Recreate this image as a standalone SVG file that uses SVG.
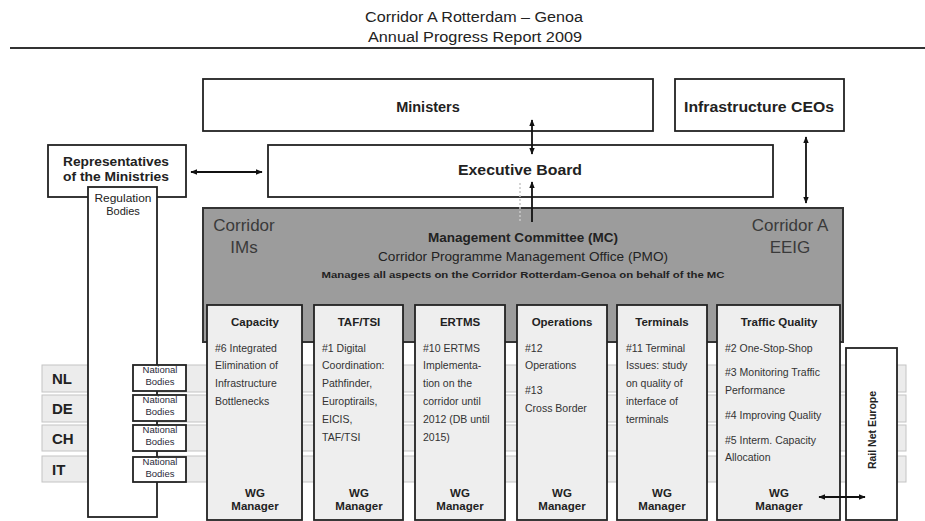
<svg xmlns="http://www.w3.org/2000/svg" width="925" height="521" viewBox="0 0 925 521">
<style>
text{font-family:"Liberation Sans",Arial,sans-serif;fill:#222}
.box{fill:#fff;stroke:#222;stroke-width:1.8}
.wg{fill:#eeeeee;stroke:#222;stroke-width:1.8}
.row{fill:#ececec;stroke:#c4c4c4;stroke-width:1}
.h{font-weight:bold;text-anchor:middle}
.c{text-anchor:middle}
.wh{font-weight:bold;font-size:11.5px;text-anchor:middle}
.b{font-size:10.5px;fill:#333}
.nb{font-size:9.5px;text-anchor:middle;fill:#2a2a3a}
.cty{font-weight:bold;font-size:15px}
.big{font-size:17px;fill:#3a3a3a;text-anchor:middle}
.conn{stroke:#111;stroke-width:1.8;fill:none}
</style>
<defs>
<marker id="ah" viewBox="0 0 10 10" refX="9" refY="5" markerWidth="7" markerHeight="7" markerUnits="userSpaceOnUse" orient="auto-start-reverse"><path d="M0,1 L10,5 L0,9 z" fill="#111"/></marker>
</defs>
<rect width="925" height="521" fill="#fff"/>
<g id="header">
<text x="474" y="22" class="c" font-size="14" fill="#333" textLength="218" lengthAdjust="spacingAndGlyphs">Corridor A Rotterdam – Genoa</text>
<text x="475" y="42" class="c" font-size="14" fill="#333" textLength="214" lengthAdjust="spacingAndGlyphs">Annual Progress Report 2009</text>
<line x1="10" y1="48" x2="925" y2="48" stroke="#333" stroke-width="2.2"/>
</g>
<g id="rows">
<rect class="row" x="42" y="365" width="864" height="27"/>
<rect class="row" x="42" y="395" width="864" height="27"/>
<rect class="row" x="42" y="425" width="864" height="26"/>
<rect class="row" x="42" y="456" width="864" height="26"/>
<line x1="88" y1="365" x2="88" y2="482" stroke="#c4c4c4"/>
<text x="52" y="384" class="cty">NL</text>
<text x="52" y="414" class="cty">DE</text>
<text x="52" y="444" class="cty">CH</text>
<text x="52" y="475" class="cty">IT</text>
</g>
<g id="ministers">
<rect class="box" x="203" y="79" width="450" height="52"/>
<text x="428" y="112" class="h" font-size="14.5">Ministers</text>
</g>
<g id="ceos">
<rect class="box" x="675" y="79" width="169" height="52"/>
<text x="759" y="112" class="h" font-size="14.5" textLength="150" lengthAdjust="spacingAndGlyphs">Infrastructure CEOs</text>
</g>
<g id="executive-board">
<rect class="box" x="268" y="145" width="505" height="52"/>
<text x="520" y="175" class="h" font-size="15" textLength="124" lengthAdjust="spacingAndGlyphs">Executive Board</text>
</g>
<g id="representatives">
<rect class="box" x="48" y="145" width="138" height="52"/>
<text x="116" y="166" class="h" font-size="12.5" textLength="106" lengthAdjust="spacingAndGlyphs">Representatives</text>
<text x="116" y="181" class="h" font-size="12.5" textLength="106" lengthAdjust="spacingAndGlyphs">of the Ministries</text>
</g>
<g id="regulation-bodies">
<rect class="box" x="88" y="187" width="69" height="330"/>
<text x="123" y="202" class="c" font-size="11" fill="#4a3050" textLength="57" lengthAdjust="spacingAndGlyphs">Regulation</text>
<text x="123" y="215" class="c" font-size="11" fill="#4a3050">Bodies</text>
</g>
<g id="management-committee">
<rect x="203" y="208" width="640" height="134" fill="#9c9c9c" stroke="#333" stroke-width="2"/>
<text x="244" y="231" class="big">Corridor</text>
<text x="244" y="253" class="big">IMs</text>
<text x="790" y="231" class="big">Corridor A</text>
<text x="790" y="253" class="big">EEIG</text>
<text x="523" y="242" class="h" font-size="12" textLength="190" lengthAdjust="spacingAndGlyphs">Management Committee (MC)</text>
<text x="523" y="261" class="c" font-size="13" fill="#333" textLength="290" lengthAdjust="spacingAndGlyphs">Corridor Programme Management Office (PMO)</text>
<text x="523" y="278" class="h" font-size="9.5" textLength="403" lengthAdjust="spacingAndGlyphs">Manages all aspects on the Corridor Rotterdam-Genoa on behalf of the MC</text>
</g>
<g id="national-bodies">
<rect class="box" x="133" y="365" width="53" height="26"/>
<text x="160" y="373" class="nb">National</text><text x="160" y="385" class="nb">Bodies</text>
<rect class="box" x="133" y="395" width="53" height="26"/>
<text x="160" y="403" class="nb">National</text><text x="160" y="415" class="nb">Bodies</text>
<rect class="box" x="133" y="425" width="53" height="26"/>
<text x="160" y="433" class="nb">National</text><text x="160" y="445" class="nb">Bodies</text>
<rect class="box" x="133" y="457" width="53" height="25"/>
<text x="160" y="465" class="nb">National</text><text x="160" y="477" class="nb">Bodies</text>
</g>
<g id="wg-capacity">
<rect class="wg" x="207" y="305" width="95" height="215"/>
<text x="255" y="326" class="wh">Capacity</text>
<text x="215" y="352" class="b">#6 Integrated</text>
<text x="215" y="369" class="b">Elimination of</text>
<text x="215" y="387" class="b">Infrastructure</text>
<text x="215" y="405" class="b">Bottlenecks</text>
<text x="255" y="497" class="wh">WG</text>
<text x="255" y="510" class="wh">Manager</text>
</g>
<g id="wg-taftsi">
<rect class="wg" x="314" y="305" width="89" height="215"/>
<text x="359" y="326" class="wh">TAF/TSI</text>
<text x="322" y="352" class="b">#1 Digital</text>
<text x="322" y="369" class="b">Coordination:</text>
<text x="322" y="387" class="b">Pathfinder,</text>
<text x="322" y="405" class="b">Europtirails,</text>
<text x="322" y="423" class="b">EICIS,</text>
<text x="322" y="441" class="b">TAF/TSI</text>
<text x="359" y="497" class="wh">WG</text>
<text x="359" y="510" class="wh">Manager</text>
</g>
<g id="wg-ertms">
<rect class="wg" x="415" y="305" width="90" height="215"/>
<text x="460" y="326" class="wh">ERTMS</text>
<text x="423" y="352" class="b">#10 ERTMS</text>
<text x="423" y="369" class="b">Implementa-</text>
<text x="423" y="387" class="b">tion on the</text>
<text x="423" y="405" class="b">corridor until</text>
<text x="423" y="423" class="b">2012 (DB until</text>
<text x="423" y="441" class="b">2015)</text>
<text x="460" y="497" class="wh">WG</text>
<text x="460" y="510" class="wh">Manager</text>
</g>
<g id="wg-operations">
<rect class="wg" x="517" y="305" width="90" height="215"/>
<text x="562" y="326" class="wh">Operations</text>
<text x="525" y="352" class="b">#12</text>
<text x="525" y="369" class="b">Operations</text>
<text x="525" y="394" class="b">#13</text>
<text x="525" y="412" class="b">Cross Border</text>
<text x="562" y="497" class="wh">WG</text>
<text x="562" y="510" class="wh">Manager</text>
</g>
<g id="wg-terminals">
<rect class="wg" x="617" y="305" width="90" height="215"/>
<text x="662" y="326" class="wh">Terminals</text>
<text x="626" y="352" class="b">#11 Terminal</text>
<text x="626" y="369" class="b">Issues: study</text>
<text x="626" y="387" class="b">on quality of</text>
<text x="626" y="405" class="b">interface of</text>
<text x="626" y="423" class="b">terminals</text>
<text x="662" y="497" class="wh">WG</text>
<text x="662" y="510" class="wh">Manager</text>
</g>
<g id="wg-traffic-quality">
<rect class="wg" x="717" y="305" width="123" height="215"/>
<text x="779" y="326" class="wh">Traffic Quality</text>
<text x="725" y="352" class="b">#2 One-Stop-Shop</text>
<text x="725" y="376" class="b">#3 Monitoring Traffic</text>
<text x="725" y="394" class="b">Performance</text>
<text x="725" y="419" class="b">#4 Improving Quality</text>
<text x="725" y="444" class="b">#5 Interm. Capacity</text>
<text x="725" y="461" class="b">Allocation</text>
<text x="779" y="497" class="wh">WG</text>
<text x="779" y="510" class="wh">Manager</text>
</g>
<g id="rail-net-europe">
<rect class="box" x="846" y="348" width="51" height="172"/>
<text x="872" y="434" class="h" font-size="10.5" transform="rotate(-90 872 430)">Rail Net Europe</text>
</g>
<g id="connectors">
<line class="conn" x1="532" y1="120" x2="532" y2="154" marker-start="url(#ah)" marker-end="url(#ah)"/>
<line class="conn" x1="532" y1="222" x2="532" y2="182" marker-end="url(#ah)"/>
<line x1="520" y1="183" x2="520" y2="221" stroke="#c8c8c8" stroke-width="1.5" stroke-dasharray="2,2"/>
<line class="conn" x1="806" y1="137" x2="806" y2="203" marker-start="url(#ah)" marker-end="url(#ah)"/>
<line class="conn" x1="191" y1="172" x2="262" y2="172" marker-start="url(#ah)" marker-end="url(#ah)"/>
<line class="conn" x1="819" y1="497" x2="865" y2="497" marker-start="url(#ah)" marker-end="url(#ah)"/>
</g>
</svg>
